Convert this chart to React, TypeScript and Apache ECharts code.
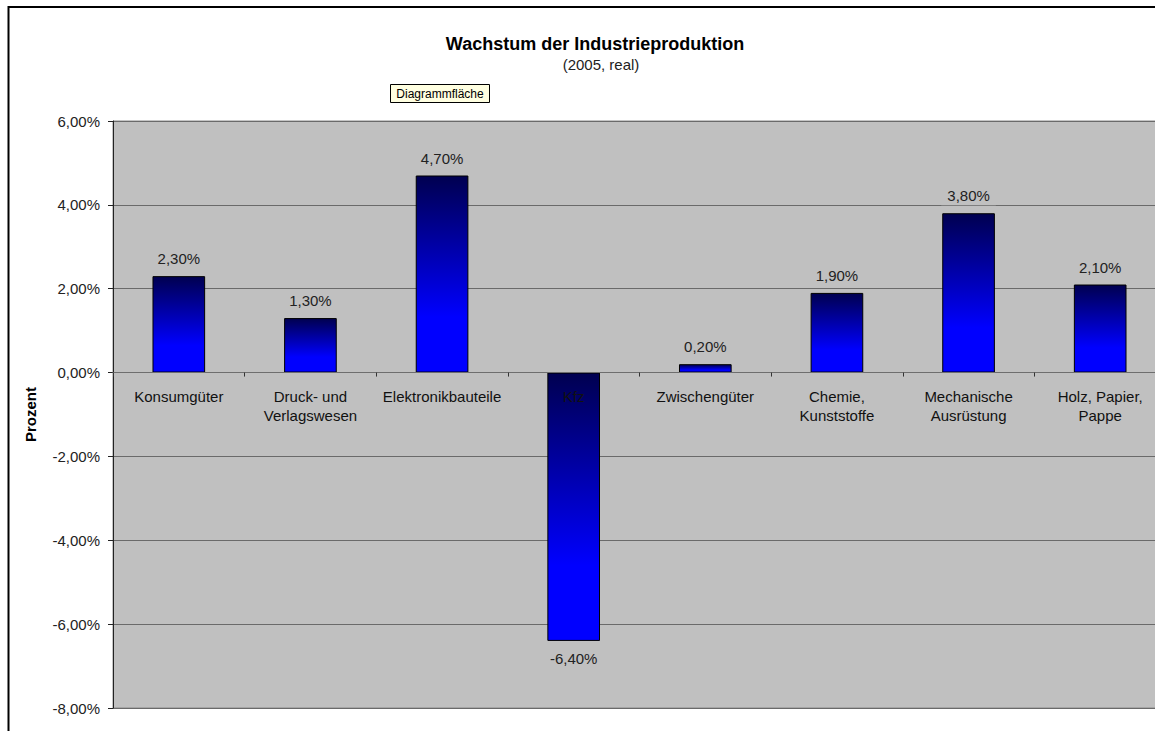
import React, { useEffect, useRef } from "react";
import * as echarts from "echarts";

const TITLE = "Wachstum der Industrieproduktion";
const SUBTITLE = "(2005, real)";
const Y_NAME = "Prozent";
const TOOLTIP_TEXT = "Diagrammfläche";
const categories = [
  "Konsumgüter",
  "Druck- und\nVerlagswesen",
  "Elektronikbauteile",
  "Kfz",
  "Zwischengüter",
  "Chemie,\nKunststoffe",
  "Mechanische\nAusrüstung",
  "Holz, Papier,\nPappe",
];
const values = [2.3, 1.3, 4.7, -6.4, 0.2, 1.9, 3.8, 2.1];
const Y_MIN = -8;
const Y_MAX = 6;
const Y_STEP = 2;

const fmt = (v: number) => v.toFixed(2).replace(".", ",") + "%";
const FONT = "Arial, 'Liberation Sans', sans-serif";

const GRID_TOP = 121;
const GRID_BOTTOM_PX = 708;

export default function App() {
  const ref = useRef<HTMLDivElement>(null);
  useEffect(() => {
    if (!ref.current) return;
    const chart = echarts.init(ref.current, undefined, { renderer: "svg" });
    // place the category axis at value 0 (Excel style)
    const zeroOffset = ((0 - Y_MIN) / (Y_MAX - Y_MIN)) * (GRID_BOTTOM_PX - GRID_TOP);
    chart.setOption({
      animation: false,
      backgroundColor: "#ffffff",
      textStyle: { fontFamily: FONT },
      title: [
        {
          text: TITLE,
          left: 590,
          top: 30,
          textAlign: "center",
          textStyle: { fontSize: 18, fontWeight: "bold", color: "#000", fontFamily: FONT },
        },
        {
          text: SUBTITLE,
          left: 596,
          top: 52,
          textAlign: "center",
          textStyle: { fontSize: 15, fontWeight: "normal", color: "#222", fontFamily: FONT },
        },
      ],
      grid: {
        left: 113,
        top: GRID_TOP,
        right: -11,
        bottom: 731 - GRID_BOTTOM_PX,
        outerBoundsMode: "none",
        containLabel: false,
        show: true,
        backgroundColor: "#C0C0C0",
        borderColor: "#8a8a8a",
        borderWidth: 1,
      },
      xAxis: {
        type: "category",
        data: categories,
        position: "bottom",
        offset: -zeroOffset,
        z: 3,
        axisLine: { onZero: false, lineStyle: { color: "#6e6e6e", width: 1 } },
        axisTick: { show: true, length: 4, lineStyle: { color: "#333" } },
        axisLabel: {
          interval: 0,
          margin: 14,
          fontSize: 15,
          lineHeight: 19,
          color: "#111",
          fontFamily: FONT,
        },
        splitLine: { show: false },
      },
      yAxis: {
        type: "value",
        min: Y_MIN,
        max: Y_MAX,
        interval: Y_STEP,
        name: Y_NAME,
        nameLocation: "middle",
        nameRotate: 90,
        nameGap: 75,
        nameTextStyle: { fontSize: 15, fontWeight: "bold", color: "#000", fontFamily: FONT },
        axisLine: { show: true, lineStyle: { color: "#222", width: 1 } },
        axisTick: { show: true, length: 5, inside: false, lineStyle: { color: "#222" } },
        axisLabel: {
          formatter: (v: number) => fmt(v),
          fontSize: 15,
          color: "#222",
          margin: 13,
          fontFamily: FONT,
        },
        splitLine: { show: true, lineStyle: { color: "#6a6a6a", width: 1 } },
      },
      series: [
        {
          type: "bar",
          data: values.map((v) => ({
            value: v,
            label: { position: v < 0 ? "bottom" : "top" },
          })),
          barWidth: "40%",
          itemStyle: {
            borderColor: "#000",
            borderWidth: 1,
            color: new echarts.graphic.LinearGradient(0, 0, 0, 1, [
              { offset: 0, color: "#000050" },
              { offset: 0.72, color: "#0000FF" },
              { offset: 1, color: "#0000FF" },
            ]),
          },
          label: {
            show: true,
            position: "top",
            distance: 8,
            formatter: (p: any) => fmt(p.value),
            fontSize: 15,
            color: "#222",
            fontFamily: FONT,
            backgroundColor: "#C0C0C0",
            padding: [2, 6],
          },
        },
      ],
      graphic: [
        {
          type: "rect",
          shape: { x: 8.5, y: 7, width: 1300, height: 900 },
          style: { fill: "none", stroke: "#000", lineWidth: 2 },
          silent: true,
          z: 10,
        },
        {
          type: "group",
          left: 390,
          top: 84,
          z: 20,
          children: [
            {
              type: "rect",
              shape: { x: 0, y: 0, width: 99, height: 18 },
              style: { fill: "#FFFFE1", stroke: "#000", lineWidth: 1 },
            },
            {
              type: "text",
              x: 49.5,
              y: 9,
              style: {
                text: TOOLTIP_TEXT,
                fill: "#000",
                font: "12px " + FONT,
                align: "center",
                verticalAlign: "middle",
              },
            },
          ],
        },
      ],
    });
    return () => chart.dispose();
  }, []);
  return (
    <div
      ref={ref}
      style={{ position: "fixed", left: 0, top: 0, width: 1155, height: 731 }}
    />
  );
}
